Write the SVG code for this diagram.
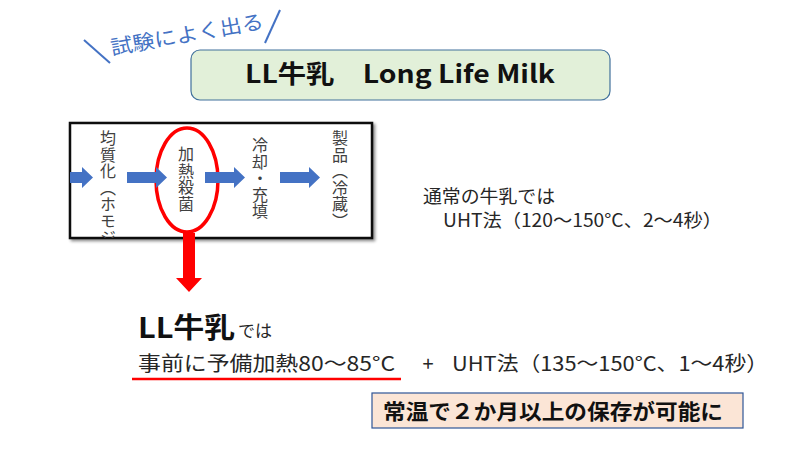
<svg xmlns="http://www.w3.org/2000/svg" width="800" height="450" viewBox="0 0 800 450">
  <style>
    text { font-family: "Noto Sans CJK JP", "Noto Sans", sans-serif; }
    .tag { fill: #4472C4; font-size: 20px; }
    .slash { stroke: #4472C4; stroke-width: 2; fill: none; }
    .title { font-size: 25px; font-weight: bold; fill: #111; }
    .step { font-size: 16px; fill: #404040; writing-mode: vertical-rl; letter-spacing: 0.5px; }
    .flow { fill: #4472C4; }
    .body { fill: #262626; }
    .bold { font-weight: bold; fill: #111; }
  </style>
  <defs>
    <filter id="shadow" x="-5%" y="-5%" width="115%" height="120%">
      <feDropShadow dx="2" dy="2" stdDeviation="1.5" flood-color="#000" flood-opacity="0.45"/>
    </filter>
    <clipPath id="boxclip">
      <rect x="70" y="123" width="302" height="115"/>
    </clipPath>
  </defs>
  <rect width="800" height="450" fill="#fff"/>

  <g id="tag">
    <line class="slash" x1="84" y1="40" x2="110" y2="63"/>
    <line class="slash" x1="280" y1="10" x2="265" y2="43"/>
    <text class="tag" x="112" y="55" transform="rotate(-10 112 55)" textLength="155" lengthAdjust="spacingAndGlyphs">試験によく出る</text>
  </g>

  <g id="title">
    <rect x="191" y="50" width="419" height="50" rx="9" fill="#E2F0D9" stroke="#41719C" stroke-width="1.2"/>
    <text class="title" x="245" y="83" textLength="310" lengthAdjust="spacingAndGlyphs">LL牛乳　Long Life Milk</text>
  </g>

  <g id="process">
    <rect x="70" y="123" width="302" height="115" fill="#fff" stroke="#111" stroke-width="2.5" filter="url(#shadow)"/>
  </g>

  <g id="step-homogenize" clip-path="url(#boxclip)">
    <text class="step" x="108" y="130">均質化（ホモジ</text>
  </g>
  <g id="step-sterilize">
    <text class="step" x="186" y="146">加熱殺菌</text>
    <ellipse cx="187" cy="180" rx="31" ry="52" fill="none" stroke="#FF0000" stroke-width="3.5"/>
  </g>
  <g id="step-fill">
    <text class="step" x="260" y="137">冷却・充填</text>
  </g>
  <g id="step-product">
    <text class="step" x="340" y="130">製品（冷蔵）</text>
  </g>

  <g id="connectors">
    <polygon class="flow" points="70,172 82,172 82,167 93,177.5 82,188 82,183 70,183"/>
    <polygon class="flow" points="127,172 156,172 156,167 167,177.5 156,188 156,183 127,183"/>
    <polygon class="flow" points="205,172 234,172 234,167 245,177.5 234,188 234,183 205,183"/>
    <polygon class="flow" points="280,172 309,172 309,167 320,177.5 309,188 309,183 280,183"/>
    <polygon fill="#FF0000" points="183,233 195,233 195,278 202,278 189,292 176,278 183,278"/>
  </g>

  <g id="normal-milk">
    <text class="body" x="423" y="203" font-size="18" textLength="132" lengthAdjust="spacingAndGlyphs">通常の牛乳では</text>
    <text class="body" x="443" y="227" font-size="18" textLength="279" lengthAdjust="spacingAndGlyphs">UHT法（120〜150°C、2〜4秒）</text>
  </g>

  <g id="ll-milk">
    <text class="bold" x="138" y="338" font-size="28" textLength="97" lengthAdjust="spacingAndGlyphs">LL牛乳</text>
    <text class="body" x="238" y="337" font-size="17" textLength="34" lengthAdjust="spacingAndGlyphs">では</text>
    <text class="body" x="138" y="371" font-size="20" textLength="257" lengthAdjust="spacingAndGlyphs">事前に予備加熱80〜85°C</text>
    <line x1="132" y1="379" x2="401" y2="379" stroke="#FF0000" stroke-width="2.5"/>
    <text class="body" x="428" y="371" font-size="20" text-anchor="middle">+</text>
    <text class="body" x="452" y="371" font-size="20" textLength="316" lengthAdjust="spacingAndGlyphs">UHT法（135〜150°C、1〜4秒）</text>
  </g>

  <g id="result">
    <rect x="372" y="393" width="371" height="35" fill="#FBE5D6" stroke="#2F5597" stroke-width="1.2"/>
    <text class="bold" x="383" y="419" font-size="21" textLength="340" lengthAdjust="spacingAndGlyphs">常温で２か月以上の保存が可能に</text>
  </g>
</svg>
